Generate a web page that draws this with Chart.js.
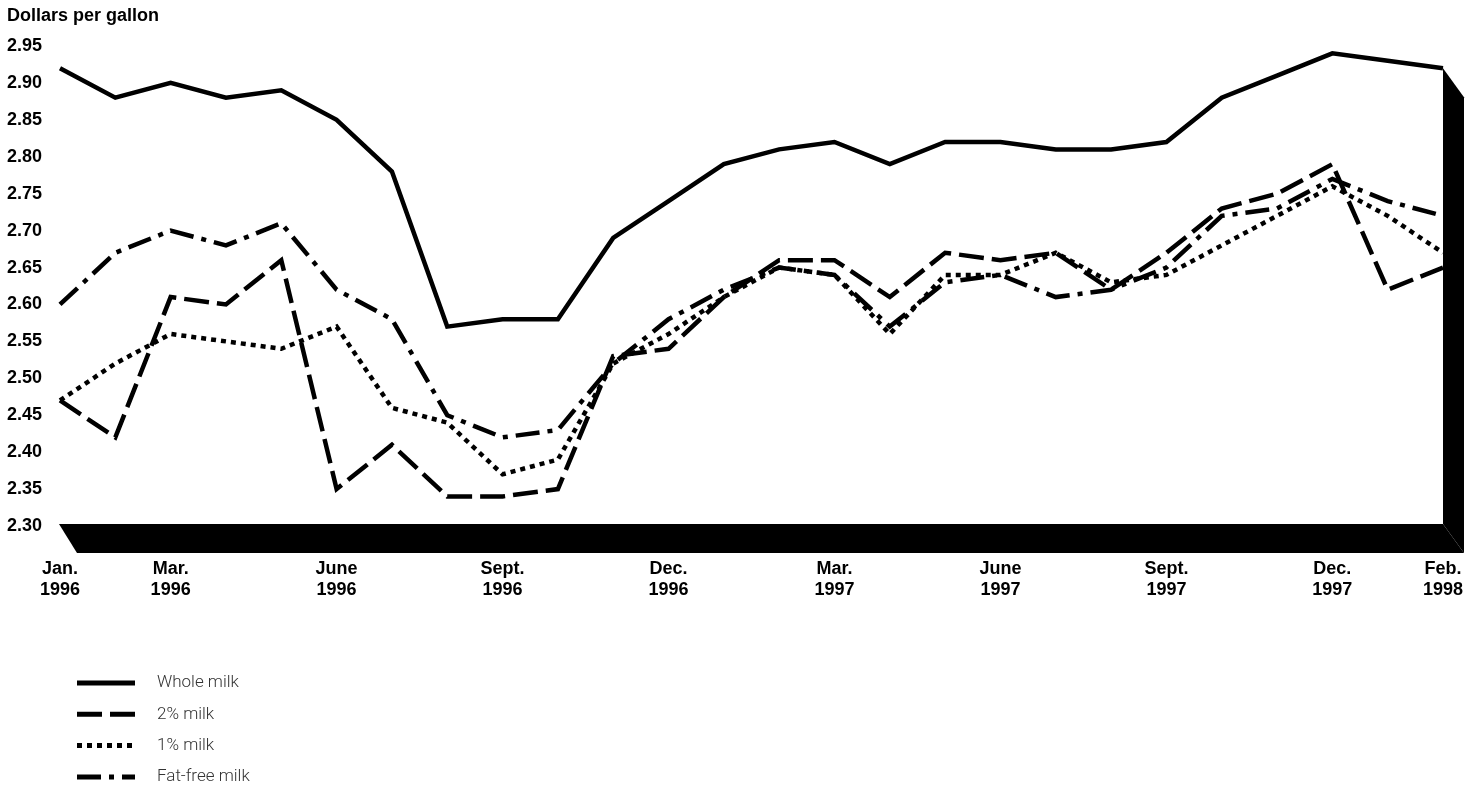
<!DOCTYPE html>
<html>
<head>
<meta charset="utf-8">
<script src="https://cdn.jsdelivr.net/npm/chart.js@4/dist/chart.umd.min.js"></script>
<style>
html,body{margin:0;padding:0;background:#ffffff;}
#wrap{width:1483px;height:792px;position:relative;}
canvas{display:block;}
</style>
</head>
<body>
<div id="wrap"><canvas id="c" width="1483" height="792"></canvas></div>
<script>
// ---- Data ----
const categories = [
  'Jan. 1996','Feb. 1996','Mar. 1996','Apr. 1996','May 1996','June 1996','July 1996','Aug. 1996','Sept. 1996','Oct. 1996','Nov. 1996','Dec. 1996',
  'Jan. 1997','Feb. 1997','Mar. 1997','Apr. 1997','May 1997','June 1997','July 1997','Aug. 1997','Sept. 1997','Oct. 1997','Nov. 1997','Dec. 1997',
  'Jan. 1998','Feb. 1998'
];
const labeledTicks = ['Jan. 1996','Mar. 1996','June 1996','Sept. 1996','Dec. 1996','Mar. 1997','June 1997','Sept. 1997','Dec. 1997','Feb. 1998'];
const yTicks = [2.30,2.35,2.40,2.45,2.50,2.55,2.60,2.65,2.70,2.75,2.80,2.85,2.90,2.95];
const yAxisTitle = 'Dollars per gallon';

const seriesNames = ['Whole milk','2% milk','1% milk','Fat-free milk'];
const wholeMilk  = [2.92,2.88,2.90,2.88,2.89,2.85,2.78,2.57,2.58,2.58,2.69,2.74,2.79,2.81,2.82,2.79,2.82,2.82,2.81,2.81,2.82,2.88,2.91,2.94,2.93,2.92];
const twoPercent = [2.47,2.42,2.61,2.60,2.66,2.35,2.41,2.34,2.34,2.35,2.53,2.54,2.61,2.66,2.66,2.61,2.67,2.66,2.67,2.62,2.67,2.73,2.75,2.79,2.62,2.65];
const onePercent = [2.47,2.52,2.56,2.55,2.54,2.57,2.46,2.44,2.37,2.39,2.52,2.56,2.61,2.65,2.64,2.56,2.64,2.64,2.67,2.63,2.64,2.68,2.72,2.76,2.72,2.67];
const fatFree    = [2.60,2.67,2.70,2.68,2.71,2.62,2.58,2.45,2.42,2.43,2.52,2.58,2.62,2.65,2.64,2.57,2.63,2.64,2.61,2.62,2.65,2.72,2.73,2.77,2.74,2.72];

// ---- Styles ----
const FONT = '"Liberation Sans", Arial, Helvetica, sans-serif';
const dashes = [[], [25, 8], [5, 5], [24, 8, 5, 8]];
const seriesData = [wholeMilk, twoPercent, onePercent, fatFree];

Chart.defaults.font.family = FONT;
Chart.defaults.color = '#000';

const decor = {
  id: 'decor',
  beforeDatasetsDraw(chart) {
    const ctx = chart.ctx;
    const a = chart.chartArea;
    const y = chart.scales.y;
    const lastMax = Math.max(...seriesData.map(s => s[s.length - 1]));
    const wallTop = y.getPixelForValue(lastMax);
    ctx.save();
    ctx.fillStyle = '#000';
    // floor
    ctx.beginPath();
    ctx.moveTo(a.left - 1, a.bottom - 2);
    ctx.lineTo(a.right, a.bottom - 2);
    ctx.lineTo(a.right + 21, a.bottom + 27);
    ctx.lineTo(a.left + 17, a.bottom + 27);
    ctx.closePath();
    ctx.fill();
    // right wall
    ctx.beginPath();
    ctx.moveTo(a.right, wallTop);
    ctx.lineTo(a.right + 21, wallTop + 29);
    ctx.lineTo(a.right + 21, a.bottom + 27);
    ctx.lineTo(a.right, a.bottom - 2);
    ctx.closePath();
    ctx.fill();
    ctx.restore();
  },
  afterDraw(chart) {
    const ctx = chart.ctx;
    ctx.save();
    // axis title
    ctx.fillStyle = '#000';
    ctx.font = 'bold 18px ' + FONT;
    ctx.textBaseline = 'middle';
    ctx.textAlign = 'left';
    ctx.fillText(yAxisTitle, 7, 16);
    // legend
    chart.data.datasets.forEach((ds, i) => {
      const yy = 683 + i * 31.3;
      ctx.beginPath();
      ctx.setLineDash(ds.borderDash || []);
      ctx.lineWidth = 5;
      ctx.lineCap = 'butt';
      ctx.strokeStyle = '#000';
      ctx.moveTo(77, yy);
      ctx.lineTo(135, yy);
      ctx.stroke();
      ctx.setLineDash([]);
      ctx.fillStyle = '#333';
      ctx.font = '300 17px Roboto, "Liberation Sans", Arial, sans-serif';
      ctx.textBaseline = 'middle';
      ctx.fillText(ds.label, 157, yy);
    });
    ctx.restore();
  }
};

new Chart(document.getElementById('c'), {
  type: 'line',
  data: {
    labels: categories,
    datasets: seriesNames.map((name, i) => ({
      label: name,
      data: seriesData[i],
      borderColor: '#000',
      backgroundColor: '#000',
      borderWidth: 4.5,
      borderDash: dashes[i],
      borderCapStyle: 'butt',
      borderJoinStyle: 'miter',
      pointRadius: 0,
      pointHoverRadius: 0,
      tension: 0,
      fill: false
    }))
  },
  options: {
    responsive: false,
    animation: false,
    devicePixelRatio: 1,
    layout: { padding: { left: 7, right: 40, top: 46, bottom: 0 } },
    plugins: {
      legend: { display: false },
      title: { display: false },
      tooltip: { enabled: false }
    },
    scales: {
      x: {
        type: 'category',
        offset: false,
        grid: { display: false, drawTicks: true, tickLength: 32 },
        border: { display: false },
        ticks: {
          autoSkip: false,
          maxRotation: 0,
          minRotation: 0,
          padding: 0,
          color: '#000',
          font: { size: 18, weight: 'bold', lineHeight: 1.2 },
          callback: function(value, index) {
            const c = categories[index];
            return labeledTicks.includes(c) ? c.split(' ') : '';
          }
        },
        afterFit: function(scale) { scale.height = 266; }
      },
      y: {
        min: yTicks[0],
        max: yTicks[yTicks.length - 1],
        grid: { display: false, drawTicks: false },
        border: { display: false },
        afterBuildTicks: function(scale) { scale.ticks = yTicks.map(v => ({ value: v })); },
        ticks: {
          crossAlign: 'far',
          padding: 0,
          color: '#000',
          font: { size: 18, weight: 'bold' },
          callback: function(v) { return Number(v).toFixed(2); }
        },
        afterFit: function(scale) { scale.width = 53; }
      }
    }
  },
  plugins: [decor]
});
</script>
</body>
</html>
